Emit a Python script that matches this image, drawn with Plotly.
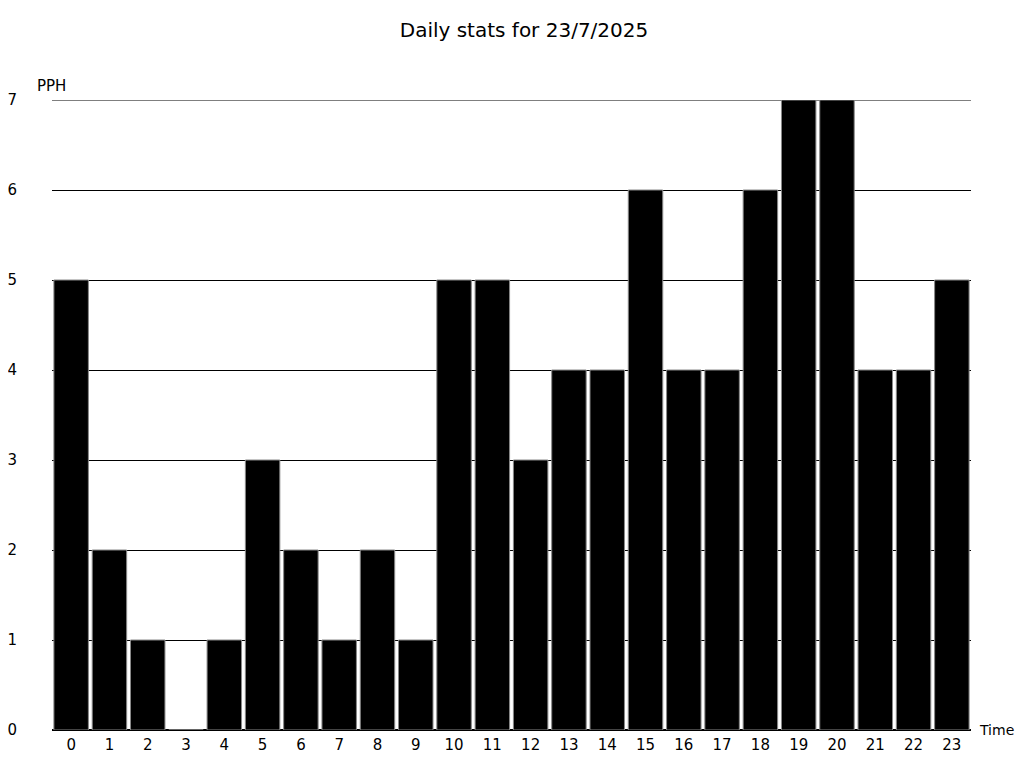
import plotly.graph_objects as go

hours = list(range(24))
pph = [5, 2, 1, 0, 1, 3, 2, 1, 2, 1, 5, 5, 3, 4, 4, 6, 4, 4, 6, 7, 7, 4, 4, 5]
title = "Daily stats for 23/7/2025"

W, H = 1008, 752  # page body has an 8px margin
fig = go.Figure(go.Bar(
    x=hours, y=pph,
    marker=dict(color="black", line=dict(color="#888888", width=1)),
))
fig.update_layout(
    width=W, height=H,
    paper_bgcolor="white", plot_bgcolor="white",
    margin=dict(l=44, r=45, t=92, b=30, autoexpand=False),
    bargap=0.1,
    font=dict(family="DejaVu Sans", size=15, color="black"),
    title=dict(text=title, x=(524 - 8) / W, xanchor="center",
               y=1 - (30 - 8) / H, yanchor="middle",
               font=dict(size=20, family="DejaVu Sans", color="black")),
    showlegend=False,
    xaxis=dict(range=[-0.5, 23.5], tickmode="array", tickvals=hours,
               ticktext=[str(h) for h in hours], showgrid=False,
               showline=True, linecolor="black", linewidth=1,
               ticks="", ticklabelstandoff=1, zeroline=False),
    yaxis=dict(range=[0, 7], dtick=1, showgrid=True, gridcolor="black",
               gridwidth=1, zeroline=True, zerolinecolor="black",
               ticks="", ticklabelstandoff=34, showline=False),
    shapes=[dict(type="line", xref="paper", yref="y", x0=0, x1=1, y0=7, y1=7,
                 line=dict(color="black", width=1), layer="below")],
    annotations=[
        dict(text="PPH", xref="paper", yref="paper", x=0.0, y=1.0,
             xanchor="center", yanchor="bottom", xshift=-1, yshift=3,
             showarrow=False, font=dict(size=15)),
        dict(text="Time", xref="paper", yref="paper", x=1.0, y=0.0,
             xanchor="left", yanchor="middle", xshift=6, showarrow=False,
             font=dict(size=14)),
    ],
)
fig.write_html("out.html")
